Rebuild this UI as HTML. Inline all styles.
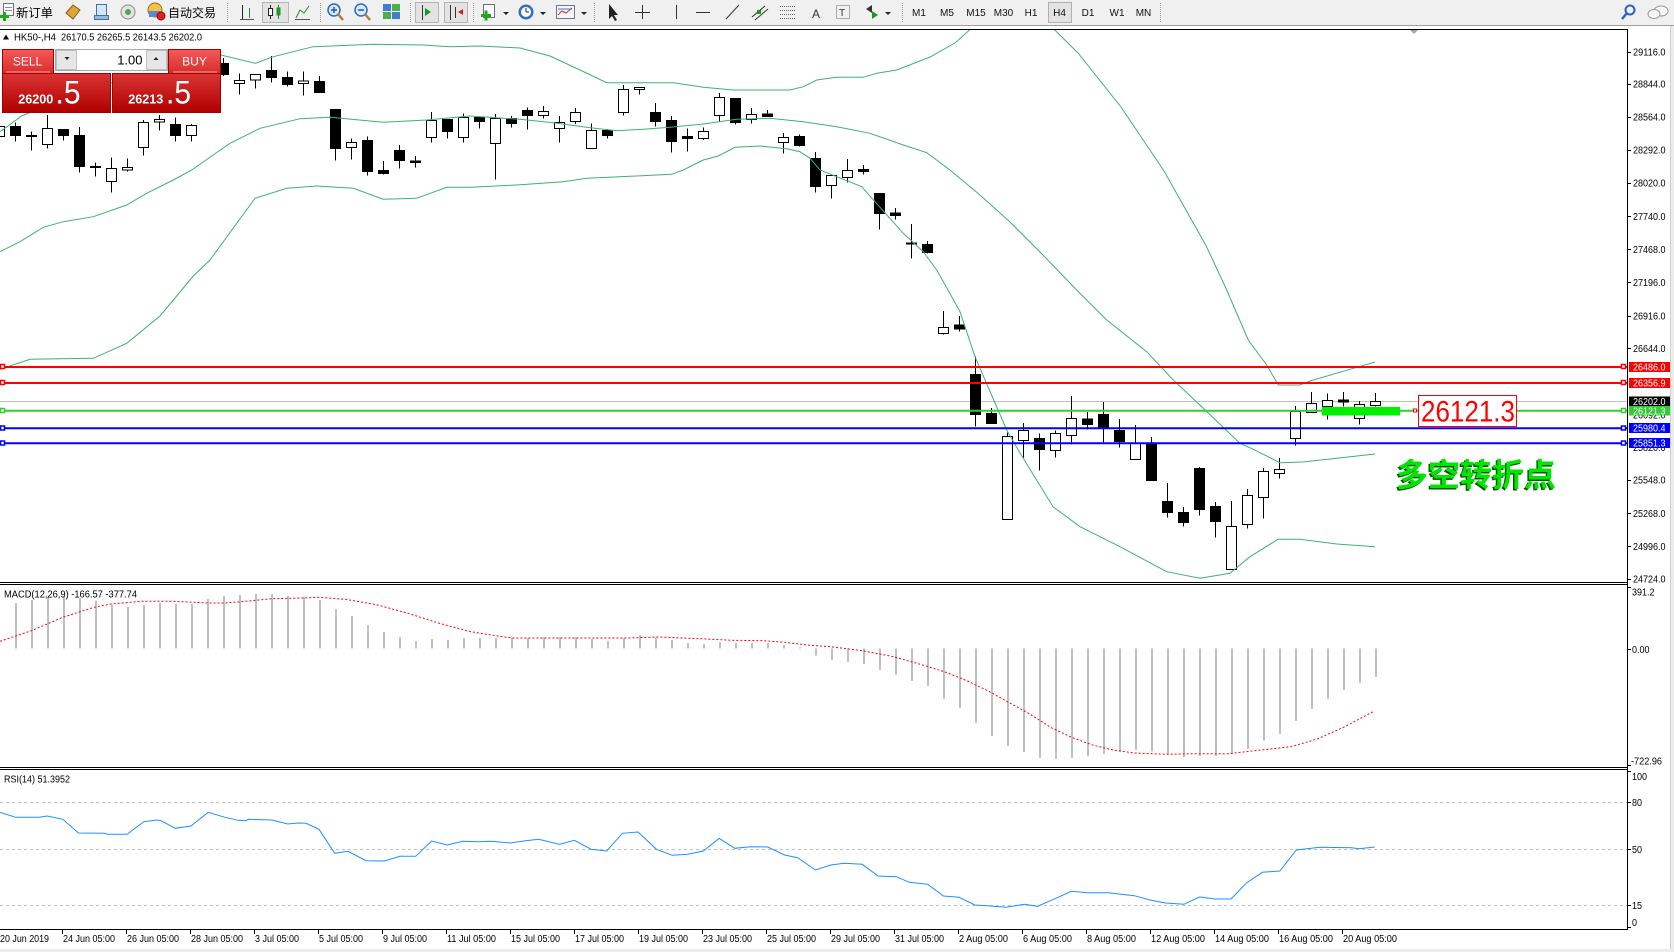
<!DOCTYPE html>
<html><head><meta charset="utf-8"><title>HK50 H4</title>
<style>
html,body{margin:0;padding:0;background:#fff;}
body{width:1674px;height:952px;overflow:hidden;}
svg{display:block;}
</style></head>
<body>
<svg width="1674" height="952" viewBox="0 0 1674 952" xmlns="http://www.w3.org/2000/svg" font-family="'Liberation Sans', sans-serif">
<defs>
<clipPath id="cm"><rect x="0" y="30" width="1627" height="552"/></clipPath>
<clipPath id="cmacd"><rect x="0" y="585" width="1627" height="182"/></clipPath>
<clipPath id="crsi"><rect x="0" y="770" width="1627" height="159"/></clipPath>
<linearGradient id="gs" x1="0" y1="0" x2="0" y2="1"><stop offset="0" stop-color="#f45a5a"/><stop offset="1" stop-color="#d92b2b"/></linearGradient>
<linearGradient id="gb" x1="0" y1="0" x2="0" y2="1"><stop offset="0" stop-color="#d93434"/><stop offset="1" stop-color="#b10000"/></linearGradient>
</defs>
<rect x="0" y="0" width="1674" height="952" fill="#fff"/>

<!-- ===== TOOLBAR ===== -->
<rect x="0" y="0" width="1674" height="25" fill="#f0f0f0"/>
<line x1="0" y1="25.5" x2="1674" y2="25.5" stroke="#a0a0a0"/>
<!-- new order -->
<rect x="3.5" y="3.5" width="10" height="12" fill="#fff" stroke="#707070"/>
<line x1="5" y1="7.5" x2="12" y2="7.5" stroke="#8090a0"/><line x1="5" y1="10.5" x2="12" y2="10.5" stroke="#8090a0"/>
<rect x="0" y="15" width="9" height="3" fill="#1ea81e"/><rect x="3" y="12" width="3" height="9" fill="#1ea81e"/>
<text x="16" y="17" font-size="12" font-family="'Liberation Sans','Noto Sans CJK SC',sans-serif" textLength="37" lengthAdjust="spacingAndGlyphs">新订单</text>
<polygon points="66,13 73,5 80,10 73,19" fill="#dca63a" stroke="#8a5a10"/>
<rect x="96.5" y="4.5" width="10" height="11" fill="#d4e6f7" stroke="#3f71ad"/><rect x="94.5" y="15.5" width="14" height="4" fill="#9ab8d8" stroke="#3f71ad"/>
<circle cx="128" cy="12" r="7" fill="#e4e4e4" stroke="#8a8a8a"/><circle cx="128" cy="12" r="3" fill="#4aa84a"/>
<circle cx="155" cy="10" r="7" fill="#f2c24a" stroke="#a07010"/><rect x="149" y="11" width="12" height="6" fill="#5a8ad0"/><circle cx="161" cy="16" r="4" fill="#e02020" stroke="#900"/>
<text x="168" y="17" font-size="12" font-family="'Liberation Sans','Noto Sans CJK SC',sans-serif" textLength="48" lengthAdjust="spacingAndGlyphs">自动交易</text>
<line x1="227.5" y1="3" x2="227.5" y2="22" stroke="#a0a0a0" stroke-dasharray="1,1"/>
<!-- chart type -->
<line x1="242.5" y1="5" x2="242.5" y2="19" stroke="#222"/><line x1="249.5" y1="8" x2="249.5" y2="18" stroke="#1a9a1a"/><line x1="240" y1="19.5" x2="254" y2="19.5" stroke="#555"/>
<rect x="262.5" y="2.5" width="26" height="20" fill="#e3e3e3" stroke="#b5b5b5"/>
<line x1="270.5" y1="5" x2="270.5" y2="19" stroke="#222"/><rect x="268.5" y="8.5" width="4" height="7" fill="#fff" stroke="#222"/><line x1="278.5" y1="5" x2="278.5" y2="19" stroke="#1a9a1a"/><rect x="276.5" y="7.5" width="4" height="8" fill="#1a9a1a"/>
<polyline points="296,18 300,10 304,13 309,6" fill="none" stroke="#1a9a1a"/><line x1="295" y1="19.5" x2="310" y2="19.5" stroke="#555"/>
<line x1="320.5" y1="3" x2="320.5" y2="22" stroke="#a0a0a0" stroke-dasharray="1,1"/>
<!-- zoom -->
<circle cx="334" cy="10" r="6" fill="#d6ebff" stroke="#2a6ac0" stroke-width="1.5"/><line x1="338" y1="14" x2="343" y2="20" stroke="#b08030" stroke-width="2.5"/><line x1="331" y1="10" x2="337" y2="10" stroke="#1a5fb0" stroke-width="1.5"/><line x1="334" y1="7" x2="334" y2="13" stroke="#1a5fb0" stroke-width="1.5"/>
<circle cx="361" cy="10" r="6" fill="#d6ebff" stroke="#2a6ac0" stroke-width="1.5"/><line x1="365" y1="14" x2="370" y2="20" stroke="#b08030" stroke-width="2.5"/><line x1="358" y1="10" x2="364" y2="10" stroke="#1a5fb0" stroke-width="1.5"/>
<rect x="383" y="4" width="8" height="7" fill="#3f7fd0"/><rect x="392" y="4" width="8" height="7" fill="#4ab04a"/><rect x="383" y="12" width="8" height="7" fill="#4ab04a"/><rect x="392" y="12" width="8" height="7" fill="#3f7fd0"/>
<line x1="410.5" y1="3" x2="410.5" y2="22" stroke="#a0a0a0" stroke-dasharray="1,1"/>
<rect x="415.5" y="2.5" width="23" height="20" fill="#e3e3e3" stroke="#b5b5b5"/><line x1="422.5" y1="5" x2="422.5" y2="20" stroke="#333"/><polygon points="425,8 431,12 425,16" fill="#1a9a1a"/>
<rect x="444.5" y="2.5" width="23" height="20" fill="#e3e3e3" stroke="#b5b5b5"/><line x1="450.5" y1="5" x2="450.5" y2="20" stroke="#333"/><line x1="455.5" y1="7" x2="455.5" y2="18" stroke="#333"/><polygon points="463,9 458,12 463,15" fill="#d02020"/>
<line x1="473.5" y1="3" x2="473.5" y2="22" stroke="#a0a0a0" stroke-dasharray="1,1"/>
<rect x="483.5" y="4.5" width="11" height="13" fill="#fff" stroke="#707070"/><rect x="481" y="14" width="10" height="3" fill="#1ea81e"/><rect x="484.5" y="10.5" width="3" height="10" fill="#1ea81e"/><polygon points="503,12 509,12 506,15" fill="#222"/>
<circle cx="526" cy="12" r="7.5" fill="#2f6fc8"/><circle cx="526" cy="12" r="5" fill="#fff"/><line x1="526" y1="12" x2="526" y2="8" stroke="#222"/><line x1="526" y1="12" x2="529" y2="12" stroke="#222"/><polygon points="540,12 546,12 543,15" fill="#222"/>
<rect x="556.5" y="5.5" width="18" height="13" fill="#f7f7f7" stroke="#6a7a8a"/><polyline points="558,15 562,11 566,13 572,8" fill="none" stroke="#d03030"/><line x1="558" y1="9" x2="572" y2="9" stroke="#3a7ac8"/><polygon points="581,12 587,12 584,15" fill="#222"/>
<line x1="594.5" y1="3" x2="594.5" y2="22" stroke="#a0a0a0" stroke-dasharray="1,1"/>
<!-- drawing tools -->
<polygon points="609,4 609,19 612,16 615,21 617,20 614,15 618,15" fill="#222"/>
<line x1="642.5" y1="5" x2="642.5" y2="19" stroke="#333"/><line x1="635" y1="12.5" x2="650" y2="12.5" stroke="#333"/>
<line x1="676.5" y1="5" x2="676.5" y2="19" stroke="#333"/>
<line x1="696" y1="12.5" x2="710" y2="12.5" stroke="#333"/>
<line x1="726" y1="19" x2="739" y2="5" stroke="#333"/>
<line x1="752" y1="17" x2="765" y2="6" stroke="#333"/><line x1="755" y1="20" x2="768" y2="9" stroke="#333"/><rect x="757" y="10" width="4" height="4" fill="#1a9a1a"/>
<line x1="780" y1="6.5" x2="795" y2="6.5" stroke="#666" stroke-dasharray="1,1"/><line x1="780" y1="10.5" x2="795" y2="10.5" stroke="#666" stroke-dasharray="1,1"/><line x1="780" y1="14.5" x2="795" y2="14.5" stroke="#666" stroke-dasharray="1,1"/><line x1="780" y1="18.5" x2="795" y2="18.5" stroke="#666" stroke-dasharray="1,1"/>
<text x="812" y="18" font-size="12" fill="#333">A</text>
<rect x="836.5" y="5.5" width="13" height="13" fill="none" stroke="#666" stroke-dasharray="1,1"/><text x="839" y="16" font-size="10" fill="#333">T</text>
<polygon points="866,9 872,5 872,13" fill="#333"/><polygon points="878,15 872,19 872,11" fill="#1a9a1a"/><polygon points="885,12 891,12 888,15" fill="#222"/>
<line x1="902.5" y1="3" x2="902.5" y2="22" stroke="#a0a0a0" stroke-dasharray="1,1"/>
<!-- timeframes -->
<rect x="1048.5" y="2.5" width="23" height="20" fill="#e3e3e3" stroke="#b0b0b0"/>
<g font-size="10" fill="#111" text-anchor="middle">
<text x="919" y="16">M1</text><text x="947" y="16">M5</text><text x="976" y="16">M15</text><text x="1003.5" y="16">M30</text><text x="1031" y="16">H1</text><text x="1059.5" y="16">H4</text><text x="1088" y="16">D1</text><text x="1117" y="16">W1</text><text x="1143.5" y="16">MN</text>
</g>
<line x1="1160.5" y1="3" x2="1160.5" y2="22" stroke="#a0a0a0" stroke-dasharray="1,1"/>
<!-- right icons -->
<circle cx="1630" cy="10" r="4.5" fill="none" stroke="#2a62c8" stroke-width="2"/><line x1="1627" y1="13" x2="1622" y2="19" stroke="#2a62c8" stroke-width="2.5"/>
<ellipse cx="1661" cy="11" rx="7" ry="5" fill="#fafafa" stroke="#999"/><ellipse cx="1654" cy="14" rx="6" ry="4.5" fill="#fafafa" stroke="#999"/>

<!-- ===== MAIN PANE ===== -->
<g clip-path="url(#cm)">
<line x1="0" y1="401.5" x2="1627" y2="401.5" stroke="#c0c0c0"/>
<!-- candles -->
<g stroke="#000" stroke-width="1" shape-rendering="crispEdges">
<line x1="-0.5" y1="120" x2="-0.5" y2="141"/><rect x="-5.5" y="126.5" width="10" height="10" fill="#fff"/>
<line x1="15.5" y1="122.5" x2="15.5" y2="141.5"/><rect x="10.5" y="126.5" width="10" height="9" fill="#000"/>
<line x1="31.5" y1="131.5" x2="31.5" y2="150.5"/><rect x="26.5" y="135.5" width="10" height="1" fill="#000"/>
<line x1="47.5" y1="115" x2="47.5" y2="148.5"/><rect x="42.5" y="128.5" width="10" height="16" fill="#fff"/>
<line x1="63.5" y1="129" x2="63.5" y2="140.5"/><rect x="58.5" y="129.5" width="10" height="6" fill="#000"/>
<line x1="79.5" y1="127" x2="79.5" y2="172.5"/><rect x="74.5" y="135.5" width="10" height="31" fill="#000"/>
<line x1="95.5" y1="162.5" x2="95.5" y2="176.5"/><rect x="90.5" y="166.5" width="10" height="1" fill="#000"/>
<line x1="111.5" y1="157.5" x2="111.5" y2="192.5"/><rect x="106.5" y="168.5" width="10" height="13" fill="#fff"/>
<line x1="127.5" y1="158.5" x2="127.5" y2="171.5"/><rect x="122.5" y="167.5" width="10" height="2.5" fill="#fff"/>
<line x1="143.5" y1="120" x2="143.5" y2="155.5"/><rect x="138.5" y="122.5" width="10" height="25" fill="#fff"/>
<line x1="159.5" y1="115" x2="159.5" y2="130.5"/><rect x="154.5" y="119.5" width="10" height="2.5" fill="#fff"/>
<line x1="175.5" y1="117.5" x2="175.5" y2="141.5"/><rect x="170.5" y="124.5" width="10" height="11" fill="#000"/>
<line x1="191.5" y1="124" x2="191.5" y2="141.5"/><rect x="186.5" y="125.5" width="10" height="10" fill="#fff"/>
<line x1="223.5" y1="58" x2="223.5" y2="76"/><rect x="218.5" y="63.5" width="10" height="11" fill="#000"/>
<line x1="239.5" y1="73.5" x2="239.5" y2="94.5"/><rect x="234.5" y="80.5" width="10" height="3" fill="#fff"/>
<line x1="255.5" y1="74.5" x2="255.5" y2="88.5"/><rect x="250.5" y="74.5" width="10" height="5.5" fill="#fff"/>
<line x1="271.5" y1="56" x2="271.5" y2="82.5"/><rect x="266.5" y="70.5" width="10" height="7" fill="#000"/>
<line x1="287.5" y1="71.5" x2="287.5" y2="86.5"/><rect x="282.5" y="77.5" width="10" height="7" fill="#000"/>
<line x1="303.5" y1="71.5" x2="303.5" y2="95.5"/><rect x="298.5" y="81" width="10" height="2.5" fill="#fff"/>
<line x1="319.5" y1="76" x2="319.5" y2="92.5"/><rect x="314.5" y="81.5" width="10" height="11" fill="#000"/>
<line x1="335.5" y1="109.5" x2="335.5" y2="160.5"/><rect x="330.5" y="109.5" width="10" height="39" fill="#000"/>
<line x1="351.5" y1="138.5" x2="351.5" y2="159.5"/><rect x="346.5" y="142.5" width="10" height="5" fill="#fff"/>
<line x1="367.5" y1="136.5" x2="367.5" y2="175.5"/><rect x="362.5" y="140.5" width="10" height="31" fill="#000"/>
<line x1="383.5" y1="161" x2="383.5" y2="174.5"/><rect x="378.5" y="170.5" width="10" height="3" fill="#000"/>
<line x1="399.5" y1="145" x2="399.5" y2="168.5"/><rect x="394.5" y="150.5" width="10" height="10" fill="#000"/>
<line x1="415.5" y1="156" x2="415.5" y2="167.5"/><rect x="410.5" y="161" width="10" height="1.5" fill="#000"/>
<line x1="431.5" y1="112" x2="431.5" y2="142.5"/><rect x="426.5" y="120.5" width="10" height="17" fill="#fff"/>
<line x1="447.5" y1="119" x2="447.5" y2="138.5"/><rect x="442.5" y="119.5" width="10" height="12" fill="#000"/>
<line x1="463.5" y1="113.5" x2="463.5" y2="142.5"/><rect x="458.5" y="117.5" width="10" height="20" fill="#fff"/>
<line x1="479.5" y1="117.5" x2="479.5" y2="128.5"/><rect x="474.5" y="117.5" width="10" height="4" fill="#000"/>
<line x1="495.5" y1="114" x2="495.5" y2="179.5"/><rect x="490.5" y="118.5" width="10" height="25" fill="#fff"/>
<line x1="511.5" y1="116" x2="511.5" y2="127.5"/><rect x="506.5" y="118.5" width="10" height="5" fill="#000"/>
<line x1="527.5" y1="107.5" x2="527.5" y2="129.5"/><rect x="522.5" y="110.5" width="10" height="5" fill="#000"/>
<line x1="543.5" y1="106" x2="543.5" y2="118.5"/><rect x="538.5" y="111.5" width="10" height="4" fill="#fff"/>
<line x1="559.5" y1="116" x2="559.5" y2="142.5"/><rect x="554.5" y="122.5" width="10" height="6" fill="#fff"/>
<line x1="575.5" y1="108" x2="575.5" y2="124"/><rect x="570.5" y="112.5" width="10" height="9" fill="#fff"/>
<line x1="591.5" y1="123.5" x2="591.5" y2="148.5"/><rect x="586.5" y="130.5" width="10" height="18" fill="#fff"/>
<line x1="607.5" y1="129" x2="607.5" y2="138.5"/><rect x="602.5" y="130.5" width="10" height="5" fill="#000"/>
<line x1="623.5" y1="85" x2="623.5" y2="115.5"/><rect x="618.5" y="89.5" width="10" height="23" fill="#fff"/>
<line x1="639.5" y1="87.5" x2="639.5" y2="94.5"/><rect x="634.5" y="87.5" width="10" height="2" fill="#fff"/>
<line x1="655.5" y1="103" x2="655.5" y2="126.5"/><rect x="650.5" y="112.5" width="10" height="9" fill="#000"/>
<line x1="671.5" y1="116" x2="671.5" y2="152.5"/><rect x="666.5" y="120.5" width="10" height="21" fill="#000"/>
<line x1="687.5" y1="128.5" x2="687.5" y2="151.5"/><rect x="682.5" y="136.5" width="10" height="2" fill="#000"/>
<line x1="703.5" y1="127.5" x2="703.5" y2="140"/><rect x="698.5" y="131.5" width="10" height="7" fill="#fff"/>
<line x1="719.5" y1="93" x2="719.5" y2="122"/><rect x="714.5" y="97.5" width="10" height="18" fill="#fff"/>
<line x1="735.5" y1="98" x2="735.5" y2="124.5"/><rect x="730.5" y="98.5" width="10" height="24" fill="#000"/>
<line x1="751.5" y1="108" x2="751.5" y2="123.5"/><rect x="746.5" y="114.5" width="10" height="5" fill="#fff"/>
<line x1="767.5" y1="110" x2="767.5" y2="116.5"/><rect x="762.5" y="114" width="10" height="2.5" fill="#000"/>
<line x1="783.5" y1="133" x2="783.5" y2="153.5"/><rect x="778.5" y="137.5" width="10" height="5" fill="#fff"/>
<line x1="799.5" y1="134.5" x2="799.5" y2="146.5"/><rect x="794.5" y="136.5" width="10" height="9" fill="#000"/>
<line x1="815.5" y1="152" x2="815.5" y2="192.5"/><rect x="810.5" y="158.5" width="10" height="28" fill="#000"/>
<line x1="831.5" y1="175.5" x2="831.5" y2="198.5"/><rect x="826.5" y="175.5" width="10" height="10" fill="#fff"/>
<line x1="847.5" y1="159" x2="847.5" y2="182.5"/><rect x="842.5" y="170.5" width="10" height="7" fill="#fff"/>
<line x1="863.5" y1="165" x2="863.5" y2="174.5"/><rect x="858.5" y="169.5" width="10" height="2" fill="#000"/>
<line x1="879.5" y1="193.5" x2="879.5" y2="229.5"/><rect x="874.5" y="193.5" width="10" height="20" fill="#000"/>
<line x1="895.5" y1="208" x2="895.5" y2="219.5"/><rect x="890.5" y="213" width="10" height="2.5" fill="#000"/>
<line x1="911.5" y1="224" x2="911.5" y2="258.5"/><rect x="906.5" y="243" width="10" height="1" fill="#000"/>
<line x1="927.5" y1="241" x2="927.5" y2="253.5"/><rect x="922.5" y="244.5" width="10" height="8" fill="#000"/>
<line x1="943.5" y1="311" x2="943.5" y2="334.5"/><rect x="938.5" y="327.5" width="10" height="6" fill="#fff"/>
<line x1="959.5" y1="316" x2="959.5" y2="331.5"/><rect x="954.5" y="325" width="10" height="4" fill="#000"/>
<line x1="975.5" y1="356.5" x2="975.5" y2="426.5"/><rect x="970.5" y="374.5" width="10" height="40" fill="#000"/>
<line x1="991.5" y1="408" x2="991.5" y2="423.5"/><rect x="986.5" y="413.5" width="10" height="10" fill="#000"/>
<line x1="1007.5" y1="432.5" x2="1007.5" y2="520"/><rect x="1002.5" y="436.5" width="10" height="83" fill="#fff"/>
<line x1="1023.5" y1="423" x2="1023.5" y2="457.5"/><rect x="1018.5" y="430.5" width="10" height="10" fill="#fff"/>
<line x1="1039.5" y1="433.5" x2="1039.5" y2="470.5"/><rect x="1034.5" y="438.5" width="10" height="11" fill="#000"/>
<line x1="1055.5" y1="430.5" x2="1055.5" y2="457.5"/><rect x="1050.5" y="433.5" width="10" height="17" fill="#fff"/>
<line x1="1071.5" y1="396" x2="1071.5" y2="444.5"/><rect x="1066.5" y="418.5" width="10" height="17" fill="#fff"/>
<line x1="1087.5" y1="412" x2="1087.5" y2="429.5"/><rect x="1082.5" y="419" width="10" height="5.5" fill="#000"/>
<line x1="1103.5" y1="402" x2="1103.5" y2="442.5"/><rect x="1098.5" y="414.5" width="10" height="14" fill="#000"/>
<line x1="1119.5" y1="419" x2="1119.5" y2="447.5"/><rect x="1114.5" y="430.5" width="10" height="11" fill="#000"/>
<line x1="1135.5" y1="425" x2="1135.5" y2="459.5"/><rect x="1130.5" y="443.5" width="10" height="16" fill="#fff"/>
<line x1="1151.5" y1="437" x2="1151.5" y2="480.5"/><rect x="1146.5" y="444.5" width="10" height="36" fill="#000"/>
<line x1="1167.5" y1="483" x2="1167.5" y2="517.5"/><rect x="1162.5" y="501.5" width="10" height="11" fill="#000"/>
<line x1="1183.5" y1="507" x2="1183.5" y2="526.5"/><rect x="1178.5" y="512.5" width="10" height="10" fill="#000"/>
<line x1="1199.5" y1="467" x2="1199.5" y2="515.5"/><rect x="1194.5" y="468.5" width="10" height="41" fill="#000"/>
<line x1="1215.5" y1="502" x2="1215.5" y2="537.5"/><rect x="1210.5" y="506.5" width="10" height="15" fill="#000"/>
<line x1="1231.5" y1="501" x2="1231.5" y2="569.5"/><rect x="1226.5" y="526.5" width="10" height="43" fill="#fff"/>
<line x1="1247.5" y1="489" x2="1247.5" y2="528.5"/><rect x="1242.5" y="495.5" width="10" height="29" fill="#fff"/>
<line x1="1263.5" y1="468" x2="1263.5" y2="518.5"/><rect x="1258.5" y="471.5" width="10" height="26" fill="#fff"/>
<line x1="1279.5" y1="458" x2="1279.5" y2="478.5"/><rect x="1274.5" y="469.5" width="10" height="4" fill="#fff"/>
<line x1="1295.5" y1="406" x2="1295.5" y2="445.5"/><rect x="1290.5" y="411.5" width="10" height="27" fill="#fff"/>
<line x1="1311.5" y1="392" x2="1311.5" y2="412.5"/><rect x="1306.5" y="403.5" width="10" height="9" fill="#fff"/>
<line x1="1327.5" y1="393.5" x2="1327.5" y2="419.5"/><rect x="1322.5" y="400.5" width="10" height="6" fill="#fff"/>
<line x1="1343.5" y1="392" x2="1343.5" y2="406.5"/><rect x="1338.5" y="400" width="10" height="2" fill="#000"/>
<line x1="1359.5" y1="401" x2="1359.5" y2="424.5"/><rect x="1354.5" y="404.5" width="10" height="14" fill="#fff"/>
<line x1="1375.5" y1="393" x2="1375.5" y2="406.5"/><rect x="1370.5" y="401.5" width="10" height="4" fill="#fff"/>
</g>
<!-- bollinger -->
<g fill="none" stroke="#3cb371" stroke-width="1">
<polyline points="0,131.7 21.7,116 60,100 120,80 180,64 221,55 255.3,63.3 273.3,56.7 313.3,46.7 373.3,44.3 423.3,45 450,46.7 480,46 520,48 550,56 580,70 606.7,82.7 673.3,82.7 703.3,87.3 733.3,90 790,90 803.3,86.7 816.7,80 836.7,77.3 863.3,77.3 876.7,73.3 896.7,70 930,57 955,43 975,25 1040,12 1054.7,29.9 1078,53 1121,107 1164,171 1206,245.5 1226.7,290 1248.3,340 1266.7,365 1278.3,385 1300,385 1310,381 1353.3,368.3 1375,362"/>
<polyline points="0,251.7 20,241.7 43.3,227.3 63.3,221.7 93.3,216.7 126.7,205 146.7,193.3 173.3,180 191.7,170 230,143.3 260,128.3 300,118.7 330,117.3 383.3,122.3 426.7,120 470,116 520,119.3 553.3,122.7 586.7,127.3 616.7,130.7 643.3,129.3 670,127.3 703.3,124 736.7,119.3 770,118.3 803.3,121.7 836.7,126.7 870,133.3 903.3,145 926.7,152.7 950,170 980,195 1010,222 1040,252 1076.7,290 1106.7,320 1146.7,351.7 1173.3,380 1203.3,408.3 1240,443.3 1253.3,449.3 1280,462.7 1303,462 1375,454"/>
<polyline points="0,369.3 30,359.3 93.3,358.3 126.7,343.3 160,316 193.3,276 210,260 255,198.3 286.7,188.3 316.7,186 353.3,188.3 383.3,199.3 416.7,198.3 446.7,187.3 470,187.3 516.7,185 563.3,181.7 586.7,178.3 636.7,176 671.7,174.3 683.3,170 703.3,160 718.3,156 735,147.3 760,146 786.7,148.7 800,151.7 810,158.3 820,170 836.7,176.7 861.7,186.7 875,201.7 903.3,233.3 923.3,251.7 936.7,270 948,290 960,311.7 975,356.7 1006.7,430 1020,453 1053,506.7 1080,526.7 1120,546.7 1166.7,571.7 1200,578.3 1230,573.3 1250,556.7 1278,539.3 1300,539.3 1336.7,544 1375,546.7"/>
</g>
<!-- horizontal objects -->
<line x1="0" y1="367" x2="1627" y2="367" stroke="#ff0000" stroke-width="2"/>
<line x1="0" y1="383" x2="1627" y2="383" stroke="#ff0000" stroke-width="2"/>
<line x1="0" y1="410.8" x2="1627" y2="410.8" stroke="#32cd32" stroke-width="2"/>
<line x1="0" y1="428.2" x2="1627" y2="428.2" stroke="#0000ff" stroke-width="2"/>
<line x1="0" y1="443.2" x2="1627" y2="443.2" stroke="#0000ff" stroke-width="2"/>
<g fill="#fff" stroke-width="1.5">
<rect x="0.5" y="364.5" width="4" height="4" stroke="#ff0000"/><rect x="1621.5" y="364.5" width="4" height="4" stroke="#ff0000"/>
<rect x="0.5" y="380.5" width="4" height="4" stroke="#ff0000"/><rect x="1621.5" y="380.5" width="4" height="4" stroke="#ff0000"/>
<rect x="0.5" y="408.5" width="4" height="4" stroke="#32cd32"/><rect x="1621.5" y="408.5" width="4" height="4" stroke="#32cd32"/>
<rect x="0.5" y="426" width="4" height="4" stroke="#0000ff"/><rect x="1621.5" y="426" width="4" height="4" stroke="#0000ff"/>
<rect x="0.5" y="441" width="4" height="4" stroke="#0000ff"/><rect x="1621.5" y="441" width="4" height="4" stroke="#0000ff"/>
</g>
<rect x="1322" y="407" width="78" height="8.5" fill="#00f000"/>
<rect x="1413.5" y="409" width="3" height="3" fill="#fff" stroke="#ff0000"/>
<rect x="1418.5" y="395.5" width="98" height="31" fill="#fff" stroke="#ff0000"/>
<text x="1421" y="421.5" font-size="30" fill="#ff0000" textLength="94" lengthAdjust="spacingAndGlyphs">26121.3</text>
<text x="1394.5" y="487.5" font-size="32" font-weight="bold" fill="#005a00" font-family="'Liberation Sans','Noto Sans CJK SC',sans-serif" textLength="160" lengthAdjust="spacingAndGlyphs">多空转折点</text>
<text x="1396" y="486" font-size="32" font-weight="bold" fill="#00e600" font-family="'Liberation Sans','Noto Sans CJK SC',sans-serif" textLength="160" lengthAdjust="spacingAndGlyphs">多空转折点</text>
<polygon points="1410,30 1418,30 1414,34" fill="#a8a8a8"/>
</g>

<!-- title -->
<polygon points="3,39.5 9,39.5 6,34.5" fill="#000"/>
<text x="14" y="40.5" font-size="10.5" fill="#000" textLength="42" lengthAdjust="spacingAndGlyphs">HK50-,H4</text>
<text x="61" y="40.5" font-size="10.5" fill="#000" textLength="141" lengthAdjust="spacingAndGlyphs">26170.5 26265.5 26143.5 26202.0</text>

<!-- one click trading panel -->
<rect x="53" y="49" width="116" height="25" fill="#fff"/>
<rect x="2.5" y="49.5" width="51" height="24" fill="url(#gs)" stroke="#a40000"/>
<line x1="6" y1="72" x2="50" y2="72" stroke="#f7a0a0"/>
<text x="27.5" y="65.3" font-size="12" fill="#fff" text-anchor="middle">SELL</text>
<rect x="168.5" y="49.5" width="52" height="24" fill="url(#gs)" stroke="#a40000"/>
<line x1="173" y1="72" x2="217" y2="72" stroke="#f7a0a0"/>
<text x="194.5" y="65.3" font-size="12" fill="#fff" text-anchor="middle">BUY</text>
<rect x="55.5" y="49.5" width="112" height="21" fill="#fff" stroke="#a8a8a8"/>
<rect x="56.5" y="50.5" width="20" height="19" fill="#e6e6e6" stroke="#c0c0c0"/>
<polygon points="64.5,57 69.5,57 67,60" fill="#222"/>
<rect x="146.5" y="50.5" width="20" height="19" fill="#e6e6e6" stroke="#c0c0c0"/>
<polygon points="153.5,60 158.5,60 156,57" fill="#222"/>
<text x="142.5" y="64.5" font-size="13" fill="#000" text-anchor="end">1.00</text>
<rect x="2.5" y="73.5" width="108" height="39" fill="url(#gb)" stroke="#a40000"/>
<rect x="112.5" y="73.5" width="108" height="39" fill="url(#gb)" stroke="#a40000"/>
<text x="18.3" y="103.3" font-size="12.5" font-weight="bold" fill="#fff" textLength="35" lengthAdjust="spacingAndGlyphs">26200</text>
<text x="55.5" y="103.3" font-size="32" fill="#fff" textLength="25" lengthAdjust="spacingAndGlyphs">.5</text>
<text x="128.3" y="103.3" font-size="12.5" font-weight="bold" fill="#fff" textLength="35" lengthAdjust="spacingAndGlyphs">26213</text>
<text x="166" y="103.3" font-size="32" fill="#fff" textLength="25" lengthAdjust="spacingAndGlyphs">.5</text>

<!-- ===== MACD PANE ===== -->
<g clip-path="url(#cmacd)" fill="#c0c0c0">
<rect x="15" y="603" width="2" height="45.5"/><rect x="31" y="600" width="2" height="48.5"/><rect x="47" y="596.7" width="2" height="51.8"/><rect x="63" y="596.7" width="2" height="51.8"/><rect x="79" y="598" width="2" height="50.5"/><rect x="95" y="600.7" width="2" height="47.8"/><rect x="111" y="604.7" width="2" height="43.8"/><rect x="127" y="607" width="2" height="41.5"/><rect x="143" y="604.7" width="2" height="43.8"/><rect x="159" y="603" width="2" height="45.5"/><rect x="175" y="604" width="2" height="44.5"/><rect x="191" y="604" width="2" height="44.5"/><rect x="207" y="599" width="2" height="49.5"/><rect x="223" y="596" width="2" height="52.5"/><rect x="239" y="595" width="2" height="53.5"/><rect x="255" y="594" width="2" height="54.5"/><rect x="271" y="594" width="2" height="54.5"/><rect x="287" y="596" width="2" height="52.5"/><rect x="303" y="596.7" width="2" height="51.8"/><rect x="319" y="600" width="2" height="48.5"/><rect x="335" y="609" width="2" height="39.5"/><rect x="351" y="616" width="2" height="32.5"/><rect x="367" y="625" width="2" height="23.5"/><rect x="383" y="632" width="2" height="16.5"/><rect x="399" y="637" width="2" height="11.5"/><rect x="415" y="641" width="2" height="7.5"/><rect x="431" y="639" width="2" height="9.5"/><rect x="447" y="640" width="2" height="8.5"/><rect x="463" y="638" width="2" height="10.5"/><rect x="479" y="638" width="2" height="10.5"/><rect x="495" y="638" width="2" height="10.5"/><rect x="511" y="638" width="2" height="10.5"/><rect x="527" y="638" width="2" height="10.5"/><rect x="543" y="637.3" width="2" height="11.2"/><rect x="559" y="637.3" width="2" height="11.2"/><rect x="575" y="637.3" width="2" height="11.2"/><rect x="591" y="639" width="2" height="9.5"/><rect x="607" y="641" width="2" height="7.5"/><rect x="623" y="638" width="2" height="10.5"/><rect x="639" y="635" width="2" height="13.5"/><rect x="655" y="637.3" width="2" height="11.2"/><rect x="671" y="640" width="2" height="8.5"/><rect x="687" y="643" width="2" height="5.5"/><rect x="703" y="644" width="2" height="4.5"/><rect x="719" y="642" width="2" height="6.5"/><rect x="735" y="643" width="2" height="5.5"/><rect x="751" y="643" width="2" height="5.5"/><rect x="767" y="643" width="2" height="5.5"/><rect x="783" y="645" width="2" height="3.5"/><rect x="799" y="647.3" width="2" height="1.2"/>
<rect x="815" y="648.5" width="2" height="7.2"/><rect x="831" y="648.5" width="2" height="11.5"/><rect x="847" y="648.5" width="2" height="13.5"/><rect x="863" y="648.5" width="2" height="15.5"/><rect x="879" y="648.5" width="2" height="21.5"/><rect x="895" y="648.5" width="2" height="26.2"/><rect x="911" y="648.5" width="2" height="32.5"/><rect x="927" y="648.5" width="2" height="37.5"/><rect x="943" y="648.5" width="2" height="50.5"/><rect x="959" y="648.5" width="2" height="59.5"/><rect x="975" y="648.5" width="2" height="74.5"/><rect x="991" y="648.5" width="2" height="87.5"/><rect x="1007" y="648.5" width="2" height="97.5"/><rect x="1023" y="648.5" width="2" height="103.5"/><rect x="1039" y="648.5" width="2" height="109.5"/><rect x="1055" y="648.5" width="2" height="110.5"/><rect x="1071" y="648.5" width="2" height="109.5"/><rect x="1087" y="648.5" width="2" height="107.8"/><rect x="1103" y="648.5" width="2" height="105.5"/><rect x="1119" y="648.5" width="2" height="103.2"/><rect x="1135" y="648.5" width="2" height="101.5"/><rect x="1151" y="648.5" width="2" height="102.8"/><rect x="1167" y="648.5" width="2" height="105.5"/><rect x="1183" y="648.5" width="2" height="108.5"/><rect x="1199" y="648.5" width="2" height="107.5"/><rect x="1215" y="648.5" width="2" height="107.5"/><rect x="1231" y="648.5" width="2" height="105.5"/><rect x="1247" y="648.5" width="2" height="100.5"/><rect x="1263" y="648.5" width="2" height="92.2"/><rect x="1279" y="648.5" width="2" height="85.5"/><rect x="1295" y="648.5" width="2" height="72.5"/><rect x="1311" y="648.5" width="2" height="60.5"/><rect x="1327" y="648.5" width="2" height="50.5"/><rect x="1343" y="648.5" width="2" height="41.5"/><rect x="1359" y="648.5" width="2" height="34.5"/><rect x="1375" y="648.5" width="2" height="28.5"/>
<polyline fill="none" stroke="#ff0000" stroke-width="1" stroke-dasharray="2,2" points="0,641.3 31.4,630.7 62.8,617.3 94.1,607.3 110.9,604 141.2,601.3 172.6,601.3 209.2,603 224.9,603 245.8,601.3 272,598.7 303.3,598 319,597.3 345.2,599.3 376.6,604.7 408,613.3 439.3,623.3 470.7,631.7 502.1,636.7 512.6,638 627.6,638 659,637 706,639 732.2,640.3 763.6,640.7 784.5,642.3 810,645.3 830.9,646.7 862.3,650.7 893.7,656.7 925.1,665.7 946,672.3 966.9,680.7 987.8,690.7 1008.7,702.3 1029.7,714 1050.6,727.3 1071.5,737.3 1092.4,745 1113.3,750 1134.3,753 1165.6,754.3 1197,753.7 1228.4,753.7 1254.6,750.7 1291.2,746.7 1317.3,739 1343.5,727.3 1373.8,711.3"/>
</g>
<text x="4" y="597.5" font-size="10" fill="#000" textLength="133" lengthAdjust="spacingAndGlyphs">MACD(12,26,9) -166.57 -377.74</text>

<!-- ===== RSI PANE ===== -->
<g stroke="#c0c0c0" stroke-dasharray="3,3">
<line x1="0" y1="802.5" x2="1627" y2="802.5"/><line x1="0" y1="849.5" x2="1627" y2="849.5"/><line x1="0" y1="905.5" x2="1627" y2="905.5"/>
</g>
<g clip-path="url(#crsi)">
<polyline fill="none" stroke="#1e90ff" stroke-width="1" points="0,812.3 15.7,817.3 39.2,817.3 47.1,816 62.8,819.3 78.5,833 104.6,833.3 107.2,834.3 127.1,834.3 143.8,821.7 156.9,820 161.1,820.7 175.2,828.3 190.9,826 208.2,812.3 224.9,817.3 238,820.3 245.8,820.7 248.4,819.3 272,820 287.7,824 298.1,823 306,823.3 319,829.3 334.7,853.3 347.8,851.3 366.1,860.7 384.4,861 400.1,856.3 415.8,856.3 431.5,841 447.2,845 462.9,841.3 478.6,841.7 491.6,841.3 509.9,843 525.6,840.7 538.7,839.3 559.6,844.3 574.3,840.3 591,849.3 606.7,851 622.4,833.3 638.1,832 656.4,849.3 672.1,855.3 687.8,854.3 703.5,851 719.1,838.3 734.8,848.3 750.5,846.7 767.8,847 784.5,855 797.6,857.7 815.5,870 830.9,865 844,863.3 862.3,864.3 878,876 896.3,876.7 909.4,882.3 927.7,884.3 943.4,896 959.1,897.3 974.8,905 990.4,906 1006.1,907.3 1024.4,904.3 1037.5,906.3 1055.8,898.3 1071.5,891.3 1087.2,892.7 1108.1,892.7 1118.6,894 1134.3,895.7 1150,900 1165.6,903 1184,904.3 1199.6,897 1215.3,899 1231,899 1246.7,882.7 1262.4,872.3 1279.7,871 1296.4,850 1319.9,847.3 1351.3,847.7 1359.2,848.7 1374.8,847"/>
</g>
<text x="4" y="782.5" font-size="10" fill="#000" textLength="66" lengthAdjust="spacingAndGlyphs">RSI(14) 51.3952</text>

<!-- ===== BORDERS ===== -->
<g stroke="#000" stroke-width="1" shape-rendering="crispEdges">
<line x1="0" y1="29.5" x2="1628" y2="29.5"/>
<line x1="0" y1="582.5" x2="1628" y2="582.5"/>
<line x1="0" y1="584.5" x2="1628" y2="584.5"/>
<line x1="0" y1="767.5" x2="1628" y2="767.5"/>
<line x1="0" y1="769.5" x2="1628" y2="769.5"/>
<line x1="0" y1="929.5" x2="1628" y2="929.5"/>
<line x1="1627.5" y1="29" x2="1627.5" y2="930"/>
<!-- axis ticks -->
<line x1="1628" y1="52.5" x2="1631" y2="52.5"/><line x1="1628" y1="84.5" x2="1631" y2="84.5"/><line x1="1628" y1="117.5" x2="1631" y2="117.5"/><line x1="1628" y1="150.5" x2="1631" y2="150.5"/><line x1="1628" y1="183.5" x2="1631" y2="183.5"/><line x1="1628" y1="216.5" x2="1631" y2="216.5"/><line x1="1628" y1="249.5" x2="1631" y2="249.5"/><line x1="1628" y1="282.5" x2="1631" y2="282.5"/><line x1="1628" y1="316.5" x2="1631" y2="316.5"/><line x1="1628" y1="348.5" x2="1631" y2="348.5"/><line x1="1628" y1="480.5" x2="1631" y2="480.5"/><line x1="1628" y1="513.5" x2="1631" y2="513.5"/><line x1="1628" y1="546.5" x2="1631" y2="546.5"/><line x1="1628" y1="579.5" x2="1631" y2="579.5"/>
<line x1="1628" y1="587.5" x2="1631" y2="587.5"/><line x1="1628" y1="649.5" x2="1631" y2="649.5"/><line x1="1628" y1="765.5" x2="1631" y2="765.5"/>
<line x1="1628" y1="771.5" x2="1631" y2="771.5"/><line x1="1628" y1="802.5" x2="1631" y2="802.5"/><line x1="1628" y1="849.5" x2="1631" y2="849.5"/><line x1="1628" y1="905.5" x2="1631" y2="905.5"/><line x1="1628" y1="927.5" x2="1631" y2="927.5"/>
<!-- time ticks -->
<line x1="62.5" y1="930" x2="62.5" y2="934"/><line x1="126.5" y1="930" x2="126.5" y2="934"/><line x1="190.5" y1="930" x2="190.5" y2="934"/><line x1="254.5" y1="930" x2="254.5" y2="934"/><line x1="318.5" y1="930" x2="318.5" y2="934"/><line x1="382.5" y1="930" x2="382.5" y2="934"/><line x1="446.5" y1="930" x2="446.5" y2="934"/><line x1="510.5" y1="930" x2="510.5" y2="934"/><line x1="574.5" y1="930" x2="574.5" y2="934"/><line x1="638.5" y1="930" x2="638.5" y2="934"/><line x1="702.5" y1="930" x2="702.5" y2="934"/><line x1="766.5" y1="930" x2="766.5" y2="934"/><line x1="830.5" y1="930" x2="830.5" y2="934"/><line x1="894.5" y1="930" x2="894.5" y2="934"/><line x1="958.5" y1="930" x2="958.5" y2="934"/><line x1="1022.5" y1="930" x2="1022.5" y2="934"/><line x1="1086.5" y1="930" x2="1086.5" y2="934"/><line x1="1150.5" y1="930" x2="1150.5" y2="934"/><line x1="1214.5" y1="930" x2="1214.5" y2="934"/><line x1="1278.5" y1="930" x2="1278.5" y2="934"/><line x1="1342.5" y1="930" x2="1342.5" y2="934"/>
</g>

<!-- price axis labels -->
<g font-size="10" fill="#000" lengthAdjust="spacingAndGlyphs">
<text x="1633" y="55.5" textLength="32.5" lengthAdjust="spacingAndGlyphs">29116.0</text>
<text x="1633" y="87.5" textLength="32.5" lengthAdjust="spacingAndGlyphs">28844.0</text>
<text x="1633" y="120.5" textLength="32.5" lengthAdjust="spacingAndGlyphs">28564.0</text>
<text x="1633" y="153.5" textLength="32.5" lengthAdjust="spacingAndGlyphs">28292.0</text>
<text x="1633" y="186.5" textLength="32.5" lengthAdjust="spacingAndGlyphs">28020.0</text>
<text x="1633" y="220" textLength="32.5" lengthAdjust="spacingAndGlyphs">27740.0</text>
<text x="1633" y="253" textLength="32.5" lengthAdjust="spacingAndGlyphs">27468.0</text>
<text x="1633" y="286" textLength="32.5" lengthAdjust="spacingAndGlyphs">27196.0</text>
<text x="1633" y="319.5" textLength="32.5" lengthAdjust="spacingAndGlyphs">26916.0</text>
<text x="1633" y="352" textLength="32.5" lengthAdjust="spacingAndGlyphs">26644.0</text>
<text x="1633" y="385" textLength="32.5" lengthAdjust="spacingAndGlyphs">26372.0</text>
<text x="1633" y="418.5" textLength="32.5" lengthAdjust="spacingAndGlyphs">26092.0</text>
<text x="1633" y="451" textLength="32.5" lengthAdjust="spacingAndGlyphs">25820.0</text>
<text x="1633" y="483.5" textLength="32.5" lengthAdjust="spacingAndGlyphs">25548.0</text>
<text x="1633" y="517" textLength="32.5" lengthAdjust="spacingAndGlyphs">25268.0</text>
<text x="1633" y="550" textLength="32.5" lengthAdjust="spacingAndGlyphs">24996.0</text>
<text x="1633" y="582.5" textLength="32.5" lengthAdjust="spacingAndGlyphs">24724.0</text>
<text x="1632" y="595.5" textLength="22.5" lengthAdjust="spacingAndGlyphs">391.2</text>
<text x="1632" y="652.8" textLength="17.5" lengthAdjust="spacingAndGlyphs">0.00</text>
<text x="1631" y="764.5" textLength="31" lengthAdjust="spacingAndGlyphs">-722.96</text>
<text x="1632" y="779.8" textLength="15" lengthAdjust="spacingAndGlyphs">100</text>
<text x="1632" y="805.8" textLength="10" lengthAdjust="spacingAndGlyphs">80</text>
<text x="1632" y="852.8" textLength="10" lengthAdjust="spacingAndGlyphs">50</text>
<text x="1632" y="908.8" textLength="10" lengthAdjust="spacingAndGlyphs">15</text>
<text x="1632" y="925.8" textLength="5" lengthAdjust="spacingAndGlyphs">0</text>
</g>
<!-- price boxes -->
<rect x="1629" y="362" width="41" height="10" fill="#ff0000"/>
<rect x="1629" y="378" width="41" height="10" fill="#ff0000"/>
<rect x="1629" y="396.5" width="41" height="9.5" fill="#000"/>
<rect x="1629" y="406" width="41" height="9.5" fill="#32cd32"/>
<rect x="1629" y="423" width="41" height="10" fill="#0000ff"/>
<rect x="1629" y="438" width="41" height="10" fill="#0000ff"/>
<g font-size="10" fill="#fff">
<text x="1633" y="370.5" textLength="32.5" lengthAdjust="spacingAndGlyphs">26486.0</text>
<text x="1633" y="386.5" textLength="32.5" lengthAdjust="spacingAndGlyphs">26356.9</text>
<text x="1633" y="405" textLength="32.5" lengthAdjust="spacingAndGlyphs">26202.0</text>
<text x="1633" y="414.5" textLength="32.5" lengthAdjust="spacingAndGlyphs">26121.3</text>
<text x="1633" y="431.5" textLength="32.5" lengthAdjust="spacingAndGlyphs">25980.4</text>
<text x="1633" y="446.5" textLength="32.5" lengthAdjust="spacingAndGlyphs">25851.3</text>
</g>

<!-- time labels -->
<g font-size="10" fill="#000">
<text x="0" y="942" textLength="49" lengthAdjust="spacingAndGlyphs">20 Jun 2019</text>
<text x="63" y="942" textLength="52" lengthAdjust="spacingAndGlyphs">24 Jun 05:00</text>
<text x="127" y="942" textLength="52" lengthAdjust="spacingAndGlyphs">26 Jun 05:00</text>
<text x="191" y="942" textLength="52" lengthAdjust="spacingAndGlyphs">28 Jun 05:00</text>
<text x="255" y="942" textLength="44" lengthAdjust="spacingAndGlyphs">3 Jul 05:00</text>
<text x="319" y="942" textLength="44" lengthAdjust="spacingAndGlyphs">5 Jul 05:00</text>
<text x="383" y="942" textLength="44" lengthAdjust="spacingAndGlyphs">9 Jul 05:00</text>
<text x="447" y="942" textLength="49" lengthAdjust="spacingAndGlyphs">11 Jul 05:00</text>
<text x="511" y="942" textLength="49" lengthAdjust="spacingAndGlyphs">15 Jul 05:00</text>
<text x="575" y="942" textLength="49" lengthAdjust="spacingAndGlyphs">17 Jul 05:00</text>
<text x="639" y="942" textLength="49" lengthAdjust="spacingAndGlyphs">19 Jul 05:00</text>
<text x="703" y="942" textLength="49" lengthAdjust="spacingAndGlyphs">23 Jul 05:00</text>
<text x="767" y="942" textLength="49" lengthAdjust="spacingAndGlyphs">25 Jul 05:00</text>
<text x="831" y="942" textLength="49" lengthAdjust="spacingAndGlyphs">29 Jul 05:00</text>
<text x="895" y="942" textLength="49" lengthAdjust="spacingAndGlyphs">31 Jul 05:00</text>
<text x="959" y="942" textLength="49" lengthAdjust="spacingAndGlyphs">2 Aug 05:00</text>
<text x="1023" y="942" textLength="49" lengthAdjust="spacingAndGlyphs">6 Aug 05:00</text>
<text x="1087" y="942" textLength="49" lengthAdjust="spacingAndGlyphs">8 Aug 05:00</text>
<text x="1151" y="942" textLength="54" lengthAdjust="spacingAndGlyphs">12 Aug 05:00</text>
<text x="1215" y="942" textLength="54" lengthAdjust="spacingAndGlyphs">14 Aug 05:00</text>
<text x="1279" y="942" textLength="54" lengthAdjust="spacingAndGlyphs">16 Aug 05:00</text>
<text x="1343" y="942" textLength="54" lengthAdjust="spacingAndGlyphs">20 Aug 05:00</text>
</g>

<!-- window edges -->
<rect x="1670" y="26" width="4" height="926" fill="#ececec"/>
<line x1="1670.5" y1="26" x2="1670.5" y2="952" stroke="#cfcfcf"/>
<rect x="0" y="949" width="1674" height="3" fill="#ececec"/>
</svg>
</body></html>
